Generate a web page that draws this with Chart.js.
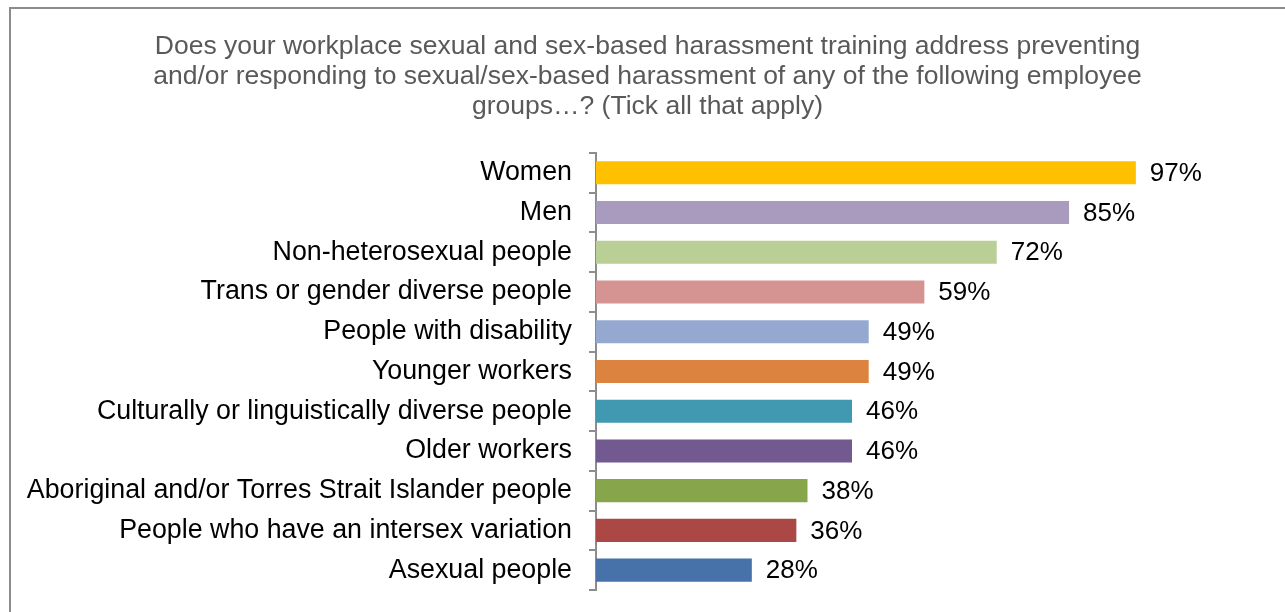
<!DOCTYPE html>
<html>
<head>
<meta charset="utf-8">
<script src="https://cdn.jsdelivr.net/npm/chart.js@4.4.1/dist/chart.umd.min.js"></script>
<style>
  html, body { margin: 0; padding: 0; background: #fff; overflow: hidden; }
  #frame { position: absolute; left: 9px; top: 7px; width: 1400px; height: 800px; border: 2px solid #8c8c8c; box-sizing: border-box; }
  #wrap { position: absolute; left: 0; top: 0; width: 1285px; height: 612px; }
</style>
</head>
<body>
<div id="frame"></div>
<div id="wrap"><canvas id="chart"></canvas></div>
<script>
const categories = [
  'Women',
  'Men',
  'Non-heterosexual people',
  'Trans or gender diverse people',
  'People with disability',
  'Younger workers',
  'Culturally or linguistically diverse people',
  'Older workers',
  'Aboriginal and/or Torres Strait Islander people',
  'People who have an intersex variation',
  'Asexual people'
];
const values = [97, 85, 72, 59, 49, 49, 46, 46, 38, 36, 28];
const barColors = ['#FFC000','#A99BBD','#B9CF96','#D59391','#95A9D0','#DD8340','#4099B0','#725990','#87A64C','#AB4745','#4672A9'];
const titleLines = [
  'Does your workplace sexual and sex-based harassment training address preventing',
  'and/or responding to sexual/sex-based harassment of any of the following employee',
  'groups\u2026? (Tick all that apply)'
];

const FONT = 'Liberation Sans, Arial, sans-serif';

// value labels at the end of each bar
const valueLabels = {
  id: 'valueLabels',
  afterDatasetsDraw(chart) {
    const ctx = chart.ctx;
    const meta = chart.getDatasetMeta(0);
    ctx.save();
    ctx.font = '26px ' + FONT;
    ctx.fillStyle = '#000';
    ctx.textAlign = 'left';
    ctx.textBaseline = 'middle';
    meta.data.forEach((bar, i) => {
      ctx.fillText(values[i] + '%', bar.x + 14, bar.y + 1);
    });
    ctx.restore();
  }
};

new Chart(document.getElementById('chart'), {
  type: 'bar',
  data: {
    labels: categories,
    datasets: [{
      data: values,
      backgroundColor: barColors,
      categoryPercentage: 1,
      barPercentage: 0.58
    }]
  },
  options: {
    indexAxis: 'y',
    responsive: true,
    maintainAspectRatio: false,
    animation: false,
    layout: { padding: { left: 10, right: 0, top: 0, bottom: 22 } },
    plugins: {
      legend: { display: false },
      tooltip: { enabled: false },
      title: {
        display: true,
        text: titleLines,
        color: '#595959',
        font: { family: FONT, size: 26.5, weight: 'normal', lineHeight: 1.13 },
        padding: { top: 32, bottom: 31 }
      }
    },
    scales: {
      x: { display: false, min: 0, max: 123.8 },
      y: {
        afterFit(scale) {
          scale.width = 586;
          scale.paddingTop = 0;
          scale.paddingBottom = 0;
        },
        border: { display: true, color: '#8c8c8c', width: 2 },
        grid: { display: true, drawOnChartArea: false, drawTicks: true, tickLength: 7, color: '#8c8c8c', lineWidth: 2, offset: true },
        ticks: { color: '#000', font: { family: FONT, size: 26.8 }, padding: 17 }
      }
    }
  },
  plugins: [valueLabels]
});
</script>
</body>
</html>
